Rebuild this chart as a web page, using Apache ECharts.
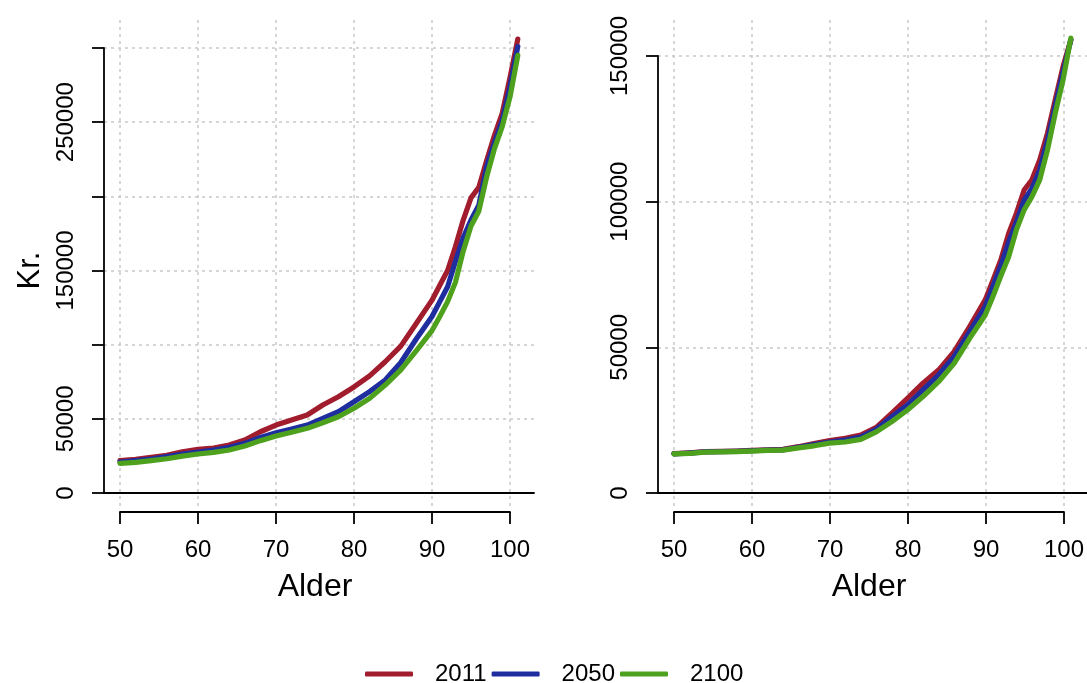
<!DOCTYPE html>
<html>
<head>
<meta charset="utf-8">
<script src="https://cdn.jsdelivr.net/npm/echarts@6/dist/echarts.min.js"></script>
<style>
html,body{margin:0;padding:0;background:#fff;}
#c{width:1087px;height:683px;}
</style>
</head>
<body>
<div id="c"></div>
<script>
// ---------- data ----------
const ages = [50,52,54,56,58,60,62,64,66,68,70,72,74,76,78,80,82,84,86,88,90,91,92,93,94,95,96,97,98,99,100,101];
const seriesNames = ['2011','2050','2100'];

const left2011 = [21800,22700,24000,25400,27800,29400,30300,32300,35700,41300,45800,49200,52600,59300,64900,71500,79000,88500,99000,114400,130000,140000,150000,166000,184000,199000,206000,224000,241000,256000,280000,306000];
const left2050 = [20900,21800,22900,24500,26300,27600,29000,30800,33500,37500,40600,43100,45800,50300,54800,61500,68300,76200,88000,104000,119000,129000,139000,156000,172000,184000,194000,220000,236000,251000,274000,301000];
const left2100 = [20000,20700,21800,23100,24900,26300,27400,29000,31700,35300,38400,40900,43600,47400,51400,57100,63800,72800,83000,96000,109500,119000,129000,142000,163000,180000,190000,213000,232000,247000,267000,295000];

const right2011 = [13500,13800,14200,14300,14400,14600,14800,15000,15900,17000,18000,18800,19900,22500,27400,32500,37700,42200,48500,57100,66300,73000,80000,89000,96000,104000,107500,114300,123500,135000,146400,155500];
const right2050 = [13400,13700,14100,14200,14300,14500,14700,14800,15700,16600,17500,18200,19200,21900,26200,30200,35400,40500,46800,55400,64000,71000,78000,86000,93000,100500,104500,111000,121000,133000,144500,155500];
const right2100 = [13400,13600,14000,14100,14200,14400,14600,14700,15500,16200,17100,17500,18400,21000,24500,28500,33100,38200,44500,53100,61100,67500,74500,81000,90300,97200,101700,107500,117800,130400,141800,156100];

const xTickMin = 50, xTickMax = 100, xTickStep = 10;
const leftYTickMax = 300000, rightYTickMax = 150000, yTickStep = 50000;
const leftYLabels = [0, 50000, 150000, 250000];
const rightYLabels = [0, 50000, 100000, 150000];
const xTitle = 'Alder';
const yTitle = 'Kr.';

// ---------- layout ----------
const FONT = "'Liberation Sans', Arial, sans-serif";
const colors = ['#A11D2E', '#1F2E9F', '#4DA11C'];
const gridLine = {type: [3, 4], color: '#c9c9c9', width: 1.5};
const black = '#000';

const panels = [
  {plotLeft:104, plotRight:534, x50:120, x100:510, yTop:48, yTickMax:leftYTickMax, labels:leftYLabels, title:yTitle,
   data:[left2011,left2050,left2100]},
  {plotLeft:658, plotRight:1088, x50:674, x100:1064, yTop:56, yTickMax:rightYTickMax, labels:rightYLabels, title:'',
   data:[right2011,right2050,right2100]}
];
const plotTop = 20, plotBottom = 507, y0 = 493;

const grid = [], xAxis = [], yAxis = [], series = [];
panels.forEach((p, pi) => {
  const pxX = (p.x100 - p.x50) / (xTickMax - xTickMin);
  const xmin = xTickMin - (p.x50 - p.plotLeft) / pxX;
  const xmax = xTickMin + (p.plotRight - p.x50) / pxX;
  const pxY = (y0 - p.yTop) / p.yTickMax;
  const ymin = -(plotBottom - y0) / pxY;
  const ymax = (y0 - plotTop) / pxY;

  // x helper grid (vertical gridlines + detached x axis)
  const gx = grid.length;
  grid.push({left:p.x50, top:plotTop, width:p.x100-p.x50, height:plotBottom-plotTop});
  xAxis.push({gridIndex:gx, type:'value', min:xTickMin, max:xTickMax, interval:xTickStep, position:'bottom', offset:5,
    axisLine:{show:true, onZero:false, lineStyle:{color:black, width:1.8}},
    axisTick:{show:true, inside:false, length:12, lineStyle:{color:black, width:1.8}},
    axisLabel:{show:true, color:black, fontSize:24, fontFamily:FONT, margin:26},
    splitLine:{show:true, lineStyle:gridLine},
    name:xTitle, nameLocation:'middle', nameGap:59,
    nameTextStyle:{color:black, fontSize:32, fontFamily:FONT}});
  yAxis.push({gridIndex:gx, type:'value', show:false});

  // y helper grid (horizontal gridlines + y axis + zero line)
  const gy = grid.length;
  grid.push({left:p.plotLeft, top:p.yTop, width:p.plotRight-p.plotLeft, height:y0-p.yTop});
  xAxis.push({gridIndex:gy, type:'value', min:0, max:1, position:'bottom',
    axisLine:{show:true, onZero:false, lineStyle:{color:black, width:1.8}},
    axisTick:{show:false}, axisLabel:{show:false}, splitLine:{show:false}});
  const shown = p.labels;
  yAxis.push({gridIndex:gy, type:'value', min:0, max:p.yTickMax, interval:yTickStep, position:'left',
    axisLine:{show:true, onZero:false, lineStyle:{color:black, width:1.8}},
    axisTick:{show:true, inside:false, length:12, lineStyle:{color:black, width:1.8}},
    axisLabel:{show:true, rotate:90, color:black, fontSize:24, fontFamily:FONT, margin:26,
      formatter:v => shown.indexOf(v) >= 0 ? String(v) : ''},
    splitLine:{show:true, lineStyle:gridLine},
    name:p.title, nameLocation:'middle', nameGap:58,
    nameTextStyle:{color:black, fontSize:31, fontFamily:FONT}});

  // data grid
  const gd = grid.length;
  grid.push({left:p.plotLeft, top:plotTop, width:p.plotRight-p.plotLeft, height:plotBottom-plotTop});
  xAxis.push({gridIndex:gd, type:'value', min:xmin, max:xmax, show:false});
  yAxis.push({gridIndex:gd, type:'value', min:ymin, max:ymax, show:false});

  p.data.forEach((arr, si) => {
    series.push({
      type:'line', name:seriesNames[si], xAxisIndex:gd, yAxisIndex:gd,
      data: ages.map((a, i) => [a, arr[i]]),
      symbol:'none', smooth:false, silent:true, animation:false, z:2+si,
      lineStyle:{color:colors[si], width:5.2, cap:'round', join:'round'},
      itemStyle:{color:colors[si]}
    });
  });
});

const chart = echarts.init(document.getElementById('c'), null, {renderer:'canvas'});
chart.setOption({
  animation:false,
  backgroundColor:'#fff',
  grid, xAxis, yAxis, series,
  legend:{
    data:seriesNames.map((n, i) => ({name:n, icon:'roundRect', itemStyle:{color:colors[i]}})),
    left:365, top:662, padding:0, itemGap:5, itemWidth:48, itemHeight:5,
    textStyle:{color:black, fontSize:24, fontFamily:FONT, padding:[0,0,0,17]}
  }
});
</script>
</body>
</html>
